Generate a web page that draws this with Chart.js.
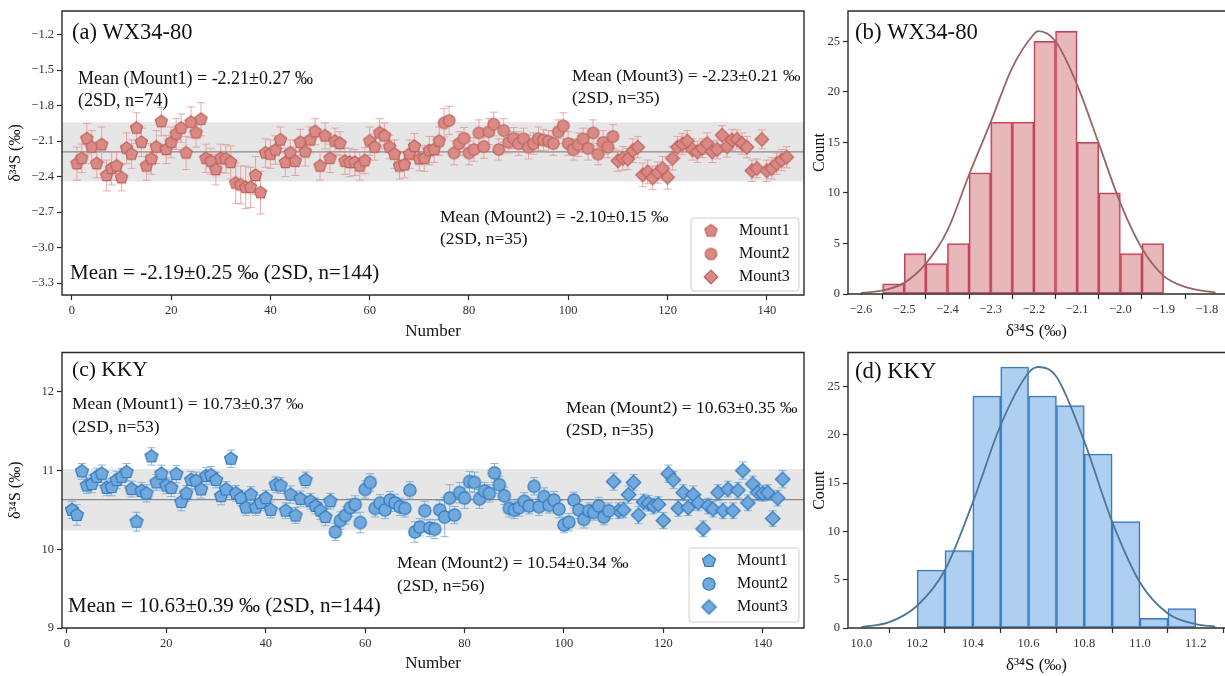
<!DOCTYPE html>
<html>
<head>
<meta charset="utf-8">
<script src="https://cdn.jsdelivr.net/npm/chart.js@4.4.1/dist/chart.umd.min.js"></script>
<style>
html, body { margin: 0; padding: 0; background: #fff; }
#wrap { position: relative; width: 1225px; height: 676px; overflow: hidden; }
#wrap canvas { position: absolute; }
</style>
</head>
<body>
<div id="wrap">
  <canvas id="panelA" width="810" height="342" style="left:0;top:0;width:810px;height:342px"></canvas>
  <canvas id="panelB" width="415" height="342" style="left:810px;top:0;width:415px;height:342px"></canvas>
  <canvas id="panelC" width="810" height="334" style="left:0;top:342px;width:810px;height:334px"></canvas>
  <canvas id="panelD" width="415" height="334" style="left:810px;top:342px;width:415px;height:334px"></canvas>
</div>
<script>
// WX34-80 d34S per spot (numbered 1..144 across the three mounts)
const wxMount1 = [-2.29, -2.245, -2.08, -2.15, -2.29, -2.13, -2.39, -2.33, -2.31, -2.41,
  -2.16, -2.21, -1.99, -2.11, -2.31, -2.25, -2.15, -1.935, -2.17, -2.11,
  -2.04, -1.99, -2.20, -1.94, -2.03, -1.915, -2.245, -2.27, -2.34, -2.245,
  -2.25, -2.28, -2.455, -2.47, -2.49, -2.49, -2.39, -2.535, -2.20, -2.21,
  -2.175, -2.09, -2.28, -2.20, -2.27, -2.11, -2.19, -2.09, -2.02, -2.31,
  -2.056, -2.245, -2.10, -2.12, -2.27, -2.28, -2.28, -2.31, -2.265, -2.10,
  -2.15, -2.03, -2.056, -2.15, -2.21, -2.31, -2.30, -2.21, -2.145, -2.25,
  -2.245, -2.18, -2.17, -2.10];
const wxMount1Err = [0.14, 0.12, 0.13, 0.14, 0.12, 0.15, 0.13, 0.14, 0.12, 0.11,
  0.13, 0.12, 0.13, 0.12, 0.12, 0.13, 0.14, 0.12, 0.12, 0.13,
  0.13, 0.12, 0.14, 0.13, 0.12, 0.14, 0.12, 0.11, 0.13, 0.12,
  0.12, 0.14, 0.17, 0.16, 0.18, 0.17, 0.16, 0.18, 0.12, 0.12,
  0.12, 0.11, 0.12, 0.11, 0.12, 0.11, 0.12, 0.11, 0.11, 0.12,
  0.11, 0.12, 0.11, 0.10, 0.11, 0.12, 0.11, 0.12, 0.11, 0.12,
  0.11, 0.12, 0.11, 0.10, 0.12, 0.11, 0.11, 0.12, 0.11, 0.10,
  0.11, 0.12, 0.11, 0.12];
const wxMount2 = [-1.945, -1.925, -2.20, -2.12, -2.075, -2.20, -2.17, -2.03, -2.145, -2.02,
  -1.955, -2.17, -2.01, -2.11, -2.075, -2.12, -2.08, -2.15, -2.12, -2.08,
  -2.09, -2.10, -2.12, -2.02, -1.97, -2.12, -2.17, -2.13, -2.08, -2.16,
  -2.03, -2.21, -2.11, -2.15, -2.06];
const wxMount2Err = [0.12, 0.12, 0.10, 0.10, 0.09, 0.10, 0.10, 0.11, 0.10, 0.11,
  0.10, 0.09, 0.10, 0.09, 0.09, 0.10, 0.09, 0.10, 0.09, 0.10,
  0.09, 0.09, 0.10, 0.10, 0.11, 0.10, 0.09, 0.10, 0.09, 0.10,
  0.11, 0.09, 0.10, 0.09, 0.10];
const wxMount3 = [-2.265, -2.245, -2.25, -2.18, -2.15, -2.385, -2.36, -2.41, -2.365, -2.33,
  -2.405, -2.245, -2.15, -2.124, -2.10, -2.17, -2.19, -2.16, -2.12, -2.19,
  -2.17, -2.05, -2.145, -2.09, -2.085, -2.12, -2.15, -2.35, -2.33, -2.085,
  -2.35, -2.33, -2.29, -2.26, -2.235];
const wxMount3Err = [0.09, 0.10, 0.09, 0.10, 0.09, 0.10, 0.10, 0.10, 0.09, 0.10,
  0.10, 0.10, 0.09, 0.09, 0.09, 0.09, 0.09, 0.08, 0.09, 0.09,
  0.08, 0.08, 0.09, 0.09, 0.08, 0.09, 0.09, 0.09, 0.08, 0.08,
  0.09, 0.09, 0.09, 0.09, 0.09];

// KKY d34S per spot
const kkyMount1 = [10.50, 10.435, 10.99, 10.81, 10.83, 10.92, 10.96, 10.78, 10.79, 10.88,
  10.92, 10.98, 10.765, 10.35, 10.74, 10.71, 11.18, 10.85, 10.96, 10.81,
  10.78, 10.955, 10.60, 10.71, 10.88, 10.87, 10.76, 10.93, 10.94, 10.88,
  10.675, 10.76, 11.15, 10.71, 10.65, 10.53, 10.695, 10.53, 10.59, 10.65,
  10.50, 10.82, 10.81, 10.49, 10.695, 10.43, 10.64, 10.88, 10.61, 10.55,
  10.49, 10.41, 10.61];
const kkyMount1Err = [0.11, 0.13, 0.10, 0.10, 0.11, 0.11, 0.11, 0.10, 0.11, 0.11,
  0.11, 0.11, 0.10, 0.12, 0.11, 0.11, 0.11, 0.10, 0.11, 0.10,
  0.11, 0.11, 0.11, 0.10, 0.11, 0.11, 0.11, 0.11, 0.11, 0.10,
  0.11, 0.10, 0.11, 0.10, 0.10, 0.10, 0.10, 0.10, 0.10, 0.10,
  0.10, 0.10, 0.10, 0.10, 0.11, 0.10, 0.10, 0.10, 0.10, 0.10,
  0.11, 0.11, 0.10];
const kkyMount2 = [10.22, 10.365, 10.43, 10.53, 10.57, 10.34, 10.76, 10.85, 10.52, 10.585,
  10.50, 10.625, 10.59, 10.54, 10.52, 10.75, 10.22, 10.28, 10.49, 10.27,
  10.255, 10.50, 10.41, 10.65, 10.435, 10.72, 10.65, 10.86, 10.85, 10.64,
  10.74, 10.71, 10.97, 10.82, 10.68, 10.52, 10.50, 10.53, 10.61, 10.55,
  10.80, 10.54, 10.67, 10.56, 10.625, 10.51, 10.31, 10.345, 10.625, 10.50,
  10.38, 10.49, 10.47, 10.55, 10.41, 10.49];
const kkyMount2Err = [0.11, 0.11, 0.11, 0.11, 0.11, 0.13, 0.11, 0.11, 0.11, 0.11,
  0.11, 0.11, 0.11, 0.11, 0.11, 0.11, 0.13, 0.11, 0.12, 0.11,
  0.12, 0.12, 0.25, 0.17, 0.11, 0.13, 0.13, 0.13, 0.13, 0.12,
  0.11, 0.11, 0.12, 0.11, 0.11, 0.11, 0.11, 0.11, 0.11, 0.10,
  0.11, 0.11, 0.11, 0.10, 0.11, 0.11, 0.10, 0.11, 0.10, 0.11,
  0.11, 0.10, 0.10, 0.11, 0.10, 0.10];
const kkyMount3 = [10.86, 10.49, 10.50, 10.695, 10.85, 10.435, 10.60, 10.585, 10.55, 10.57,
  10.365, 10.96, 10.88, 10.52, 10.72, 10.53, 10.695, 10.59, 10.26, 10.55,
  10.51, 10.72, 10.49, 10.765, 10.49, 10.75, 11.00, 10.59, 10.83, 10.72,
  10.71, 10.72, 10.39, 10.65, 10.89];
const kkyMount3Err = [0.11, 0.10, 0.10, 0.11, 0.10, 0.11, 0.10, 0.10, 0.10, 0.10,
  0.10, 0.11, 0.11, 0.10, 0.10, 0.10, 0.11, 0.10, 0.10, 0.10,
  0.10, 0.10, 0.10, 0.10, 0.10, 0.10, 0.11, 0.10, 0.10, 0.10,
  0.10, 0.10, 0.10, 0.10, 0.11];

// histograms: bin centres and counts
const wxBins = [-2.525, -2.475, -2.425, -2.375, -2.325, -2.275, -2.225, -2.175, -2.125, -2.075, -2.025, -1.975, -1.925];
const wxCounts = [1, 4, 3, 5, 12, 17, 17, 25, 26, 15, 10, 4, 5];
const wxCurveX = [-2.60, -2.55, -2.50, -2.45, -2.40, -2.35, -2.30, -2.25, -2.20, -2.19, -2.15, -2.10, -2.05, -2.00, -1.95, -1.90, -1.85, -1.80, -1.78];
const wxCurveY = [0.1, 0.35, 1.1, 3.0, 6.3, 11.8, 17.0, 22.4, 25.7, 26.0, 25.0, 20.7, 14.9, 9.0, 4.5, 1.8, 0.7, 0.25, 0.15];

const kkyBins = [10.25, 10.35, 10.45, 10.55, 10.65, 10.75, 10.85, 10.95, 11.05, 11.15];
const kkyCounts = [6, 8, 24, 27, 24, 23, 18, 11, 1, 2];
const kkyCurveX = [10.00, 10.10, 10.20, 10.30, 10.40, 10.50, 10.60, 10.635, 10.70, 10.80, 10.90, 11.00, 11.10, 11.20, 11.27];
const kkyCurveY = [0.1, 0.6, 2.3, 6.0, 13.0, 21.0, 26.4, 27.0, 26.0, 19.3, 11.0, 4.7, 1.5, 0.4, 0.15];

// tick labels
const numberTicks = [0, 20, 40, 60, 80, 100, 120, 140];
const wxTicksY = [-3.3, -3.0, -2.7, -2.4, -2.1, -1.8, -1.5, -1.2];
const kkyTicksY = [9, 10, 11, 12];
const wxHistTicks = [-2.6, -2.5, -2.4, -2.3, -2.2, -2.1, -2.0, -1.9, -1.8];
const kkyHistTicks = [10.0, 10.2, 10.4, 10.6, 10.8, 11.0, 11.2];
const countTicks = [0, 5, 10, 15, 20, 25];

Chart.defaults.font.family = '"Liberation Serif", "Times New Roman", serif';
Chart.defaults.color = '#333';
Chart.defaults.animation = false;

const SERIF = '"Liberation Serif", "Times New Roman", serif';
const fmt = (v, d) => (v < 0 ? '\u2212' : '') + Math.abs(v).toFixed(d);

function marker(shape, r, fill, stroke) {
  const c = document.createElement('canvas');
  const s = Math.ceil(r * 2 + 4);
  c.width = s; c.height = s;
  const g = c.getContext('2d');
  g.translate(s / 2, s / 2);
  g.beginPath();
  if (shape === 'pentagon') {
    for (let i = 0; i < 5; i++) {
      const a = -Math.PI / 2 + i * 2 * Math.PI / 5;
      g.lineTo(r * Math.cos(a), r * Math.sin(a));
    }
    g.closePath();
  } else if (shape === 'circle') {
    g.arc(0, 0, r * 0.9, 0, 2 * Math.PI);
  } else {
    g.moveTo(0, -r); g.lineTo(r, 0); g.lineTo(0, r); g.lineTo(-r, 0); g.closePath();
  }
  g.fillStyle = fill; g.fill();
  g.lineWidth = 1.2; g.strokeStyle = stroke; g.stroke();
  return c;
}

const redMarks = {
  pentagon: marker('pentagon', 6.4, '#d98a85', '#c0625d'),
  circle: marker('circle', 6.4, '#d98a85', '#c0625d'),
  diamond: marker('diamond', 6.8, '#d98a85', '#c0625d')
};
const blueMarks = {
  pentagon: marker('pentagon', 6.8, '#72a9dc', '#2f78bf'),
  circle: marker('circle', 6.8, '#72a9dc', '#2f78bf'),
  diamond: marker('diamond', 7.2, '#72a9dc', '#2f78bf')
};

function series(values, errs, start, img, label) {
  return {
    label: label,
    data: values.map((v, i) => ({ x: start + i, y: v })),
    errors: errs,
    pointStyle: img,
    pointRadius: 5
  };
}

function decor(cfg) {
  return {
    id: 'decor',
    beforeDatasetsDraw(chart) {
      const { ctx, chartArea: a } = chart;
      const x = chart.scales.x, y = chart.scales.y;
      ctx.save();
      if (cfg.mean !== undefined) {
        const y1 = y.getPixelForValue(cfg.mean + cfg.sd2);
        const y2 = y.getPixelForValue(cfg.mean - cfg.sd2);
        ctx.fillStyle = '#e6e6e6';
        ctx.fillRect(a.left, y1, a.right - a.left, y2 - y1);
        const ym = y.getPixelForValue(cfg.mean);
        ctx.strokeStyle = '#8a8a8a'; ctx.lineWidth = 1.3;
        ctx.beginPath(); ctx.moveTo(a.left, ym); ctx.lineTo(a.right, ym); ctx.stroke();
      }
      chart.data.datasets.forEach(ds => {
        if (!ds.errors) return;
        ctx.strokeStyle = cfg.errColor; ctx.lineWidth = 1;
        ds.data.forEach((p, i) => {
          const px = x.getPixelForValue(p.x);
          const t = y.getPixelForValue(p.y + ds.errors[i]);
          const b = y.getPixelForValue(p.y - ds.errors[i]);
          ctx.beginPath();
          ctx.moveTo(px, t); ctx.lineTo(px, b);
          ctx.moveTo(px - 4, t); ctx.lineTo(px + 4, t);
          ctx.moveTo(px - 4, b); ctx.lineTo(px + 4, b);
          ctx.stroke();
        });
      });
      ctx.restore();
    },
    afterDraw(chart) {
      const { ctx, chartArea: a } = chart;
      ctx.save();
      ctx.strokeStyle = '#2b2b2b'; ctx.lineWidth = 1.4;
      ctx.beginPath();
      ctx.moveTo(a.right, a.top); ctx.lineTo(a.left, a.top);
      ctx.lineTo(a.left, a.bottom); ctx.lineTo(a.right, a.bottom);
      if (!cfg.openRight) ctx.closePath();
      ctx.stroke();
      ctx.fillStyle = '#111';
      ctx.textBaseline = 'middle';
      ctx.textAlign = 'left';
      (cfg.texts || []).forEach(t => {
        ctx.font = t.size + 'px ' + SERIF;
        ctx.fillText(t.text, t.x, t.y);
      });
      if (cfg.legend) {
        const L = cfg.legend;
        const bx = a.right - L.w - 5, by = a.bottom - L.h - L.bottom;
        ctx.fillStyle = '#fff'; ctx.strokeStyle = '#cfcfcf'; ctx.lineWidth = 1;
        ctx.beginPath();
        ctx.roundRect(bx, by, L.w, L.h, 3);
        ctx.fill(); ctx.stroke();
        ctx.font = '16px ' + SERIF; ctx.fillStyle = '#111';
        chart.data.datasets.forEach((ds, i) => {
          const cy = by + 13 + i * 23;
          const img = ds.pointStyle;
          ctx.drawImage(img, bx + 20 - img.width / 2, cy - img.height / 2);
          ctx.fillText(ds.label, bx + 48, cy);
        });
      }
      ctx.restore();
    }
  };
}

function axisTicks(list, dec) {
  return {
    afterBuildTicks: s => { s.ticks = list.map(v => ({ value: v })); },
    ticks: { font: { size: 12.5 }, color: '#333', padding: 3, callback: v => fmt(v, dec) },
    grid: { drawOnChartArea: false, drawTicks: true, tickLength: 5, tickColor: '#2b2b2b', tickWidth: 1.2 },
    border: { display: false }
  };
}

function scatterPanel(id, datasets, opt) {
  const xs = axisTicks(numberTicks, 0);
  const ys = axisTicks(opt.yTicks, opt.yDec);
  new Chart(document.getElementById(id), {
    type: 'scatter',
    data: { datasets: datasets },
    options: {
      responsive: false,
      layout: { padding: { top: opt.top, right: 5, left: 0, bottom: 0 } },
      plugins: { legend: { display: false }, tooltip: { enabled: false } },
      scales: {
        x: Object.assign(xs, {
          type: 'linear', min: opt.xMin, max: opt.xMax,
          afterFit: s => { s.height = opt.xH; },
          title: { display: true, text: 'Number', font: { size: 17 }, color: '#111', padding: { top: 0, bottom: opt.xTitlePad } }
        }),
        y: Object.assign(ys, {
          min: opt.yMin, max: opt.yMax,
          afterFit: s => { s.width = 62; },
          title: { display: true, text: 'δ³⁴S (‰)', font: { size: 16 }, color: '#111', padding: { top: 6, bottom: 0 } }
        })
      }
    },
    plugins: [decor(opt.decor)]
  });
}

function histPanel(id, bins, counts, cx, cy, opt) {
  const xs = axisTicks(opt.xTicks, 1);
  const ys = axisTicks(countTicks, 0);
  new Chart(document.getElementById(id), {
    type: 'bar',
    data: {
      datasets: [
        {
          type: 'line',
          data: cx.map((v, i) => ({ x: v, y: cy[i] })),
          borderColor: opt.curve, borderWidth: 1.8,
          pointRadius: 0, cubicInterpolationMode: 'monotone', fill: false
        },
        {
          type: 'bar',
          data: bins.map((v, i) => ({ x: v, y: counts[i] })),
          backgroundColor: opt.fill, borderColor: opt.edge, borderWidth: 1.5,
          borderSkipped: false, barPercentage: 1, categoryPercentage: 1
        }
      ]
    },
    options: {
      responsive: false,
      layout: { padding: { top: opt.top, right: 0, left: 0, bottom: 0 } },
      plugins: { legend: { display: false }, tooltip: { enabled: false } },
      scales: {
        x: Object.assign(xs, {
          type: 'linear', offset: false, min: opt.xMin, max: opt.xMax,
          afterFit: s => { s.height = opt.xH; },
          title: { display: true, text: 'δ³⁴S (‰)', font: { size: 17 }, color: '#111', padding: { top: 0, bottom: opt.xTitlePad } }
        }),
        y: Object.assign(ys, {
          min: 0, max: opt.yMax,
          afterFit: s => { s.width = 38; },
          title: { display: true, text: 'Count', font: { size: 16 }, color: '#111', padding: { top: 0, bottom: 0 } }
        })
      }
    },
    plugins: [decor({ texts: opt.texts, openRight: true })]
  });
}

scatterPanel('panelA', [
  series(wxMount1, wxMount1Err, 1, redMarks.pentagon, 'Mount1'),
  series(wxMount2, wxMount2Err, 75, redMarks.circle, 'Mount2'),
  series(wxMount3, wxMount3Err, 110, redMarks.diamond, 'Mount3')
], {
  top: 11, xH: 47, xTitlePad: 0, xMin: -2, xMax: 147.5,
  yMin: -3.4, yMax: -1.0, yTicks: wxTicksY, yDec: 1,
  decor: {
    mean: -2.19, sd2: 0.25, errColor: 'rgba(226,150,150,0.8)',
    legend: { w: 108, h: 73, bottom: 4 },
    texts: [
      { text: '(a) WX34-80', x: 72, y: 33, size: 22.5 },
      { text: 'Mean (Mount1) = -2.21±0.27 ‰', x: 78, y: 79, size: 18 },
      { text: '(2SD, n=74)', x: 78, y: 101, size: 18 },
      { text: 'Mean (Mount3) = -2.23±0.21 ‰', x: 572, y: 76, size: 17.5 },
      { text: '(2SD, n=35)', x: 572, y: 98, size: 17.5 },
      { text: 'Mean (Mount2) = -2.10±0.15 ‰', x: 440, y: 217, size: 17.5 },
      { text: '(2SD, n=35)', x: 440, y: 239, size: 17.5 },
      { text: 'Mean = -2.19±0.25 ‰ (2SD, n=144)', x: 70, y: 273, size: 21 }
    ]
  }
});

scatterPanel('panelC', [
  series(kkyMount1, kkyMount1Err, 1, blueMarks.pentagon, 'Mount1'),
  series(kkyMount2, kkyMount2Err, 54, blueMarks.circle, 'Mount2'),
  series(kkyMount3, kkyMount3Err, 110, blueMarks.diamond, 'Mount3')
], {
  top: 3, xH: 48, xTitlePad: 2, xMin: -1, xMax: 148.3,
  yMin: 9, yMax: 12.5, yTicks: kkyTicksY, yDec: 0,
  decor: {
    mean: 10.63, sd2: 0.39, errColor: 'rgba(110,165,215,0.8)',
    legend: { w: 110, h: 74, bottom: 6 },
    texts: [
      { text: '(c) KKY', x: 72, y: 28, size: 21.5 },
      { text: 'Mean (Mount1) = 10.73±0.37 ‰', x: 72, y: 62, size: 17.5 },
      { text: '(2SD, n=53)', x: 72, y: 85, size: 17.5 },
      { text: 'Mean (Mount2) = 10.63±0.35 ‰', x: 566, y: 66, size: 17.5 },
      { text: '(2SD, n=35)', x: 566, y: 88, size: 17.5 },
      { text: 'Mean (Mount2) = 10.54±0.34 ‰', x: 397, y: 221, size: 17.5 },
      { text: '(2SD, n=56)', x: 397, y: 244, size: 17.5 },
      { text: 'Mean = 10.63±0.39 ‰ (2SD, n=144)', x: 68, y: 264, size: 21 }
    ]
  }
});

histPanel('panelB', wxBins, wxCounts, wxCurveX, wxCurveY, {
  top: 11, xH: 48, xTitlePad: 0, xMin: -2.63, xMax: -1.758, yMax: 28,
  xTicks: wxHistTicks,
  fill: 'rgba(228,170,174,0.85)', edge: '#c2465a', curve: '#9a6464',
  texts: [{ text: '(b) WX34-80', x: 45, y: 33, size: 22.7 }]
});

histPanel('panelD', kkyBins, kkyCounts, kkyCurveX, kkyCurveY, {
  top: 3, xH: 48, xTitlePad: 0, xMin: 9.952, xMax: 11.305, yMax: 28.5,
  xTicks: kkyHistTicks,
  fill: 'rgba(166,202,238,0.9)', edge: '#3a7cc2', curve: '#4d7698',
  texts: [{ text: '(d) KKY', x: 45, y: 30, size: 22.7 }]
});
</script>
</body>
</html>
